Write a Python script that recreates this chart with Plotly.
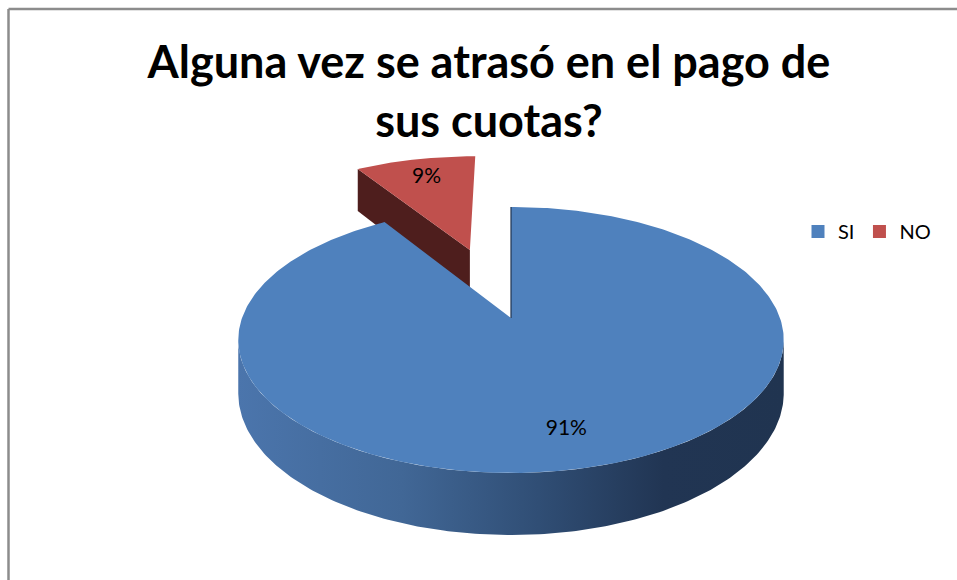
import numpy as np
import plotly.graph_objects as go

# Survey answers (percent of respondents)
categories = ["SI", "NO"]
values = [91, 9]
explode = [0.0, 0.6]          # radial pull-out of each slice, in pie radii

top_colors = ["#4F81BD", "#C0504D"]
edge_colors = ["#3A5E8A", "#4E1E1D"]
wall_scales = [
    [[0.0, "#4B75AC"], [0.3, "#416796"], [0.55, "#304E75"], [0.78, "#213553"], [1.0, "#203450"]],
    [[0.0, "#7A2E2C"], [1.0, "#4E1E1D"]],
]

# 3-D pie projection settings (pixel space)
CX, CY = 511.0, 318.0   # projected pie centre, top face
A, B = 269.0, 129.4     # horizontal / depth scale of the top ellipse
T = 51.8                # pie thickness
P = 0.165               # perspective strength


def proj(u, v, h):
    w = 1.0 + P * v
    return CX + A * u / w, CY + (-B * v - T * h) / w


fig = go.Figure()

fracs = np.array(values, dtype=float) / np.sum(values)
cum = np.concatenate([[0.0], np.cumsum(fracs)])
slices = []
for i, name in enumerate(categories):
    a0 = 90.0 - 360.0 * cum[i]
    a1 = 90.0 - 360.0 * cum[i + 1]
    mid = np.radians((a0 + a1) / 2)
    du, dv = explode[i] * np.cos(mid), explode[i] * np.sin(mid)
    depth = dv + 0.5 * np.sin(mid)
    slices.append(dict(i=i, a0=a0, a1=a1, mid=mid, du=du, dv=dv, depth=depth))

label_x, label_y, label_txt = [], [], []

for s in sorted(slices, key=lambda d: -d["depth"]):
    i, du, dv = s["i"], s["du"], s["dv"]
    t = np.radians(np.linspace(s["a0"], s["a1"], 400))

    # radial side faces that turn toward the viewer
    for ang, sign in ((s["a0"], 1), (s["a1"], -1)):
        r = np.radians(ang)
        normal_v = np.sin(r + sign * np.pi / 2)
        if normal_v < -0.05:
            pts = [proj(du, dv, 0), proj(du + np.cos(r), dv + np.sin(r), 0),
                   proj(du + np.cos(r), dv + np.sin(r), -1), proj(du, dv, -1)]
            xs, ys = zip(*pts)
            fig.add_trace(go.Scatter(x=list(xs) + [xs[0]], y=list(ys) + [ys[0]],
                                     mode="lines", fill="toself", fillcolor=edge_colors[i],
                                     line=dict(width=0, color=edge_colors[i]),
                                     hoverinfo="skip", showlegend=False))

    # outer wall, front-facing part of the rim
    front = np.sin(t) < -P
    if front.any():
        tf = t[front]
        tx, ty = proj(du + np.cos(tf), dv + np.sin(tf), 0)
        bx, by = proj(du + np.cos(tf), dv + np.sin(tf), -1)
        xs = np.concatenate([tx, bx[::-1], tx[:1]])
        ys = np.concatenate([ty, by[::-1], ty[:1]])
        fig.add_trace(go.Scatter(x=xs, y=ys, mode="lines", fill="toself",
                                 fillgradient=dict(type="horizontal", colorscale=wall_scales[i]),
                                 line=dict(width=0), hoverinfo="skip", showlegend=False))

    # top face
    ax, ay = proj(du, dv, 0)
    rx, ry = proj(du + np.cos(t), dv + np.sin(t), 0)
    xs = np.concatenate([[ax], rx, [ax]])
    ys = np.concatenate([[ay], ry, [ay]])
    fig.add_trace(go.Scatter(x=xs, y=ys, mode="lines", fill="toself",
                             fillcolor=top_colors[i], line=dict(width=0, color=top_colors[i]),
                             hoverinfo="skip", showlegend=False))

    # thin edge where the radial face is seen edge-on
    if explode[i] == 0:
        r = np.radians(s["a0"])
        ex, ey = proj(du + np.cos(r), dv + np.sin(r), 0)
        fig.add_trace(go.Scatter(x=[ax, ex], y=[ay, ey], mode="lines",
                                 line=dict(width=1.2, color="#1F3350"),
                                 hoverinfo="skip", showlegend=False))

    # value label inside the slice
    rho, lh = (0.77, 0.0) if explode[i] else (0.66, -0.35)
    lx, ly = proj(du + rho * np.cos(s["mid"]), dv + rho * np.sin(s["mid"]), lh)
    label_x.append(lx)
    label_y.append(ly)
    label_txt.append(f"{values[i] / np.sum(values) * 100:.0f}%")

fig.add_trace(go.Scatter(x=label_x, y=label_y, text=label_txt, mode="text",
                         textposition="middle center",
                         textfont=dict(family="Lato", size=21, color="#000000"),
                         hoverinfo="skip", showlegend=False))

# legend entries
for name, c in zip(categories, top_colors):
    fig.add_trace(go.Scatter(x=[None], y=[None], mode="markers", name=name,
                             marker=dict(symbol="square", size=13, color=c)))

# chart frame (left and top edges)
fig.add_shape(type="line", x0=8.5, x1=957, y0=9, y1=9, xref="x", yref="y",
              line=dict(color="#8C8C8C", width=2.5))
fig.add_shape(type="line", x0=8.5, x1=8.5, y0=9, y1=580, xref="x", yref="y",
              line=dict(color="#8C8C8C", width=2.5))

fig.update_layout(
    width=957, height=580,
    margin=dict(l=0, r=0, t=0, b=0),
    paper_bgcolor="white", plot_bgcolor="white",
    title=dict(text="<b>Alguna vez se atrasó en el pago de<br>sus cuotas?</b>",
               x=489 / 957, xanchor="center", y=1 - 78 / 580, yanchor="top",
               font=dict(family="Lato", size=45, color="#000000")),
    xaxis=dict(range=[0, 957], visible=False, fixedrange=True),
    yaxis=dict(range=[580, 0], visible=False, fixedrange=True),
    legend=dict(orientation="h", x=798 / 957, xanchor="left", y=1 - 212 / 580, yanchor="top",
                font=dict(family="Lato", size=20, color="#000000"),
                bgcolor="rgba(0,0,0,0)", itemclick=False),
    showlegend=True,
)

fig.write_html("out.html")
